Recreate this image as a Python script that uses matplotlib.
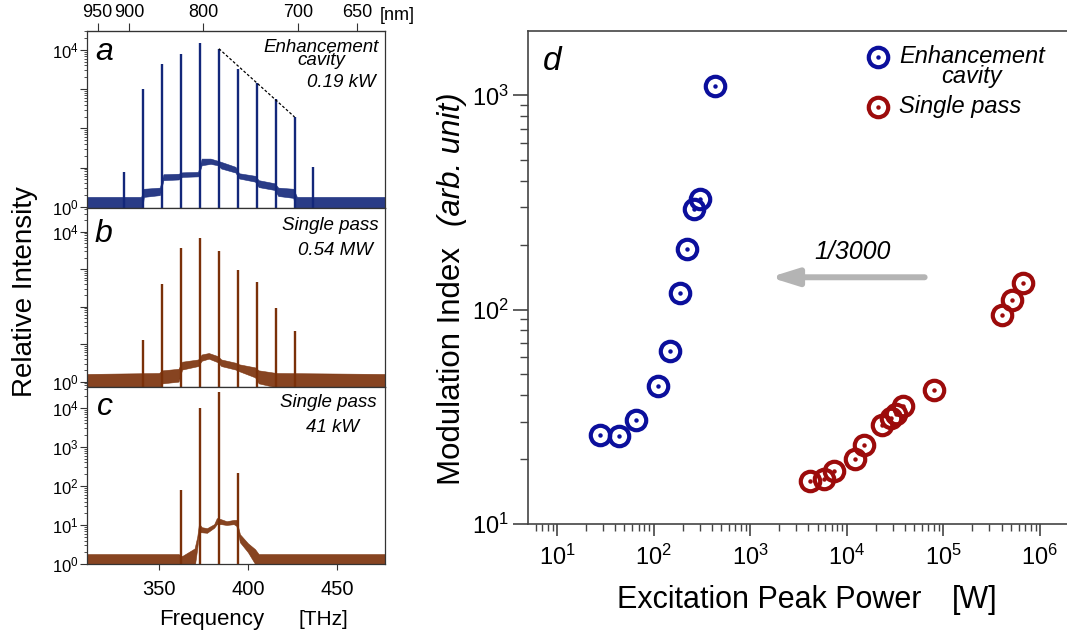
import matplotlib
matplotlib.use('Agg')
import matplotlib.pyplot as plt
from matplotlib.lines import Line2D
from matplotlib.ticker import LogLocator, NullFormatter, FuncFormatter
import numpy as np

plt.rcParams['font.family'] = ['Liberation Sans', 'DejaVu Sans']
plt.rcParams['mathtext.fontset'] = 'custom'
plt.rcParams['mathtext.rm'] = 'Liberation Sans'
plt.rcParams['mathtext.it'] = 'Liberation Sans:italic'
plt.rcParams['mathtext.bf'] = 'Liberation Sans:bold'

# ---- spectra (a, b, c): sideband lines and noisy background band ----
peak_freq_a = [330.3, 340.8, 351.5, 362.2, 372.9, 383.7, 394.2, 404.9, 415.6, 426.2, 436.7]
peak_int_a = [7.8, 1020, 4370, 7940, 15100, 10700, 3310, 1450, 562, 195, 10.5]
band_freq_a = [309, 340, 341.5, 350.5, 352.5, 361, 363, 372, 374, 379, 383, 385, 393, 395,
               404, 406, 415, 417, 425.5, 427.5, 477]
band_lo_a = [0.5, 0.5, 1.8, 2.0, 4.8, 5.0, 5.8, 6.0, 11.5, 12.5, 11.5, 9.5, 7.5, 5.3,
             4.4, 3.2, 2.7, 1.9, 1.7, 0.5, 0.5]
band_hi_a = [1.8, 1.8, 2.9, 3.1, 6.8, 7.0, 7.6, 7.8, 17, 17, 15, 14, 10.5, 7.2,
             6.2, 4.8, 4.0, 3.1, 2.9, 1.8, 1.8]

peak_freq_b = [340.8, 351.5, 362.2, 372.9, 383.7, 394.2, 404.9, 415.6, 426.2]
peak_int_b = [13, 400, 3700, 6900, 3100, 950, 450, 93, 23]
band_freq_b = [309, 350, 352, 361, 363, 372, 374, 378, 383, 385, 393, 395, 404, 406, 416, 477]
band_lo_b = [0.6, 0.6, 0.9, 1.0, 2.1, 2.6, 3.6, 4.1, 3.3, 2.6, 2.1, 1.9, 1.3, 0.9, 0.7, 0.6]
band_hi_b = [1.6, 1.7, 2.0, 2.2, 3.4, 3.9, 5.3, 5.8, 4.8, 3.9, 3.2, 2.9, 2.4, 2.0, 1.7, 1.6]

peak_freq_c = [362.2, 372.9, 383.7, 394.2]
peak_int_c = [80, 9800, 26000, 210]
band_freq_c = [309, 361, 363, 370, 371.5, 372.5, 374, 377, 381, 382.5, 385, 388, 392, 393.5,
               395.5, 400, 404, 406, 477]
band_lo_c = [0.5, 0.5, 0.5, 0.8, 2.5, 6.5, 6.5, 6.3, 8.5, 10.5, 10.5, 10, 10.5, 9.5, 3.6, 2.0,
             1.0, 0.5, 0.5]
band_hi_c = [1.8, 1.8, 1.6, 2.5, 5, 11, 8.8, 8.3, 10.5, 15, 14, 12.5, 13.5, 13.5, 5.8, 3.4,
             2.4, 1.8, 1.8]

nm_ticks = [950, 900, 800, 700, 650]
thz_ticks = [350, 400, 450]

# ---- panel d: modulation index vs excitation peak power ----
cav_power = [28, 44, 65, 111, 149, 186, 221, 263, 300, 430]
cav_index = [26, 25.7, 30.5, 44, 64, 120, 191, 295, 327, 1100]
sp_power = [4120, 5860, 7430, 12080, 15200, 23100, 28500, 32600, 38600, 80500,
            403000, 515000, 673000]
sp_index = [15.8, 16.2, 17.7, 20.2, 23.4, 28.9, 31.2, 32.7, 35.5, 42.3, 94.6, 111, 133]

navy = '#13277a'
brown = '#7a3009'
blue = '#0b0f9c'
red = '#9c0b0b'
C_LIGHT = 299792.458

W, H = 1067, 639
fig = plt.figure(figsize=(W / 100, H / 100), dpi=100)


def box(l, t, r, b):
    return [l / W, 1 - b / H, (r - l) / W, (b - t) / H]


def txt(x, y, s, **kw):
    return fig.text(x / W, 1 - y / H, s, **kw)


def to_other(v):
    v = np.asarray(v, dtype=float)
    with np.errstate(divide='ignore'):
        return C_LIGHT / v


def decade_label(keep):
    def fmt(v, pos):
        e = int(round(np.log10(v)))
        if keep is None or e in keep:
            return r'$\mathdefault{10^{%d}}$' % e
        return ''
    return FuncFormatter(fmt)


def spectrum(ax, pf, pi, bf, lo, hi, color, ylim, keep):
    ax.fill_between(bf, lo, hi, color=color, lw=0.4, alpha=0.9)
    ax.vlines(pf, 0.3, pi, color=color, lw=1.7)
    ax.set_xlim(309.4, 477)
    ax.set_yscale('log')
    ax.set_ylim(*ylim)
    ax.yaxis.set_major_locator(LogLocator(base=10, numticks=12))
    ax.yaxis.set_minor_locator(LogLocator(base=10, subs=np.arange(2, 10), numticks=12))
    ax.yaxis.set_major_formatter(decade_label(keep))
    ax.yaxis.set_minor_formatter(NullFormatter())
    ax.tick_params(axis='y', which='major', direction='out', length=5, width=0.8,
                   labelsize=12, pad=1, color='#333333')
    ax.tick_params(axis='y', which='minor', direction='out', length=2.5, width=0.6,
                   color='#333333')
    for s in ax.spines.values():
        s.set_color('#333333')
        s.set_linewidth(0.9)


ax_a = fig.add_axes(box(86.7, 31, 385, 208.5))
ax_b = fig.add_axes(box(86.7, 208.5, 385, 386.5))
ax_c = fig.add_axes(box(86.7, 386.5, 385, 564))

spectrum(ax_a, peak_freq_a, peak_int_a, band_freq_a, band_lo_a, band_hi_a, navy,
         (10 ** -0.04, 10 ** 4.48), (0, 4))
spectrum(ax_b, peak_freq_b, peak_int_b, band_freq_b, band_lo_b, band_hi_b, brown,
         (10 ** -0.13, 10 ** 4.62), (0, 4))
spectrum(ax_c, peak_freq_c, peak_int_c, band_freq_c, band_lo_c, band_hi_c, brown,
         (1.0, 10 ** 4.55), None)

for ax in (ax_a, ax_b):
    ax.tick_params(axis='x', bottom=False, labelbottom=False)
ax_c.set_xticks(thz_ticks)
ax_c.tick_params(axis='x', direction='out', length=4.3, width=0.8, pad=7.5,
                 labelsize=14.5, color='#333333')

# dashed envelope over the blue-side sidebands
ax_a.plot([peak_freq_a[5], peak_freq_a[9]], [peak_int_a[5], peak_int_a[9]],
          ls=(0, (2.2, 1.6)), color='k', lw=0.9)

sec = ax_a.secondary_xaxis('top', functions=(to_other, to_other))
sec.set_xticks(nm_ticks)
sec.tick_params(direction='out', length=6, width=0.8, pad=1.5, labelsize=13, color='#333333')
sec.spines['top'].set_color('#333333')

# panel texts (multi-line blocks are anchored on the baseline of their last line)
txt(95, 60, 'a', fontsize=23, style='italic', va='baseline')
txt(95, 241.7, 'b', fontsize=23, style='italic', va='baseline')
txt(97, 415, 'c', fontsize=23, style='italic', va='baseline')
txt(379, 65, 'Enhancement\ncavity', fontsize=13.5, style='italic', ha='right',
    va='baseline', multialignment='center', linespacing=0.7)
txt(376, 87.3, '0.19 kW', fontsize=13.5, style='italic', ha='right', va='baseline')
txt(379, 230, 'Single pass', fontsize=13.5, style='italic', ha='right', va='baseline')
txt(373, 255, '0.54 MW', fontsize=13.5, style='italic', ha='right', va='baseline')
txt(377, 406.7, 'Single pass', fontsize=13.5, style='italic', ha='right', va='baseline')
txt(359, 431.7, '41 kW', fontsize=13.5, style='italic', ha='right', va='baseline')
txt(380, 20, '[nm]', fontsize=13, va='baseline')
txt(159, 625, 'Frequency', fontsize=16, va='baseline')
txt(299, 625, '[THz]', fontsize=15, va='baseline')
txt(32, 397, 'Relative Intensity', fontsize=20, rotation=90, rotation_mode='anchor',
    ha='left', va='baseline')

# ---- panel d ----
ax_d = fig.add_axes(box(528, 31, 1067, 524))
ax_d.set_xscale('log')
ax_d.set_yscale('log')
ax_d.plot(cav_power, cav_index, ls='none', marker='o', ms=14, mfc='none', mec=blue, mew=3)
ax_d.plot(cav_power, cav_index, ls='none', marker='o', ms=3.2, mfc=blue, mec='none')
ax_d.plot(sp_power, sp_index, ls='none', marker='o', ms=14, mfc='none', mec=red, mew=3)
ax_d.plot(sp_power, sp_index, ls='none', marker='o', ms=3.2, mfc=red, mec='none')
ax_d.set_xlim(10 ** 0.70, 10 ** 6.28)
ax_d.set_ylim(10, 10 ** 3.30)
ax_d.spines['right'].set_visible(False)
for s in ('left', 'top', 'bottom'):
    ax_d.spines[s].set_color('#444444')
    ax_d.spines[s].set_linewidth(1.2)
for axis in (ax_d.xaxis, ax_d.yaxis):
    axis.set_major_locator(LogLocator(base=10, numticks=20))
    axis.set_minor_locator(LogLocator(base=10, subs=np.arange(2, 10), numticks=20))
    axis.set_major_formatter(decade_label(None))
    axis.set_minor_formatter(NullFormatter())
ax_d.tick_params(axis='x', which='major', direction='out', length=8.6, width=1.2, pad=6,
                 labelsize=17, color='#444444')
ax_d.tick_params(axis='x', which='minor', direction='out', length=5, width=1.0, color='#444444')
ax_d.tick_params(axis='y', which='major', direction='out', length=10.8, width=1.2, pad=3,
                 labelsize=17, color='#444444')
ax_d.tick_params(axis='y', which='minor', direction='out', length=5.8, width=1.0,
                 color='#444444')

ax_d.annotate('', xy=(1600, 141.6), xytext=(64000, 141.6),
              arrowprops=dict(arrowstyle='-|>,head_length=1.6,head_width=0.5', lw=4.3,
                              color='#b4b4b4', shrinkA=0, shrinkB=0))
txt(853, 259, '1/3000', fontsize=18, style='italic', ha='center', va='baseline')
txt(543, 70, 'd', fontsize=24, style='italic', va='baseline')

# legend drawn by hand to keep the centred second line
for y, c in ((57, blue), (107, red)):
    fig.add_artist(Line2D([878 / W], [1 - y / H], marker='o', ms=14, mfc='none', mec=c, mew=3,
                          transform=fig.transFigure))
    fig.add_artist(Line2D([878 / W], [1 - y / H], marker='o', ms=3.2, mfc=c, mec='none',
                          transform=fig.transFigure))
txt(899, 83, 'Enhancement\ncavity', fontsize=17, style='italic', va='baseline',
    multialignment='center', linespacing=0.85)
txt(899, 113, 'Single pass', fontsize=17, style='italic', va='baseline')

txt(617, 608, 'Excitation Peak Power', fontsize=22, va='baseline')
txt(997, 608, '[W]', fontsize=22, ha='right', va='baseline')
txt(460, 485, 'Modulation Index', fontsize=22.5, rotation=90, rotation_mode='anchor',
    ha='left', va='baseline')
txt(460, 92, '(arb. unit)', fontsize=22.5, style='italic', rotation=90, rotation_mode='anchor',
    ha='right', va='baseline')

fig.savefig('out.png', dpi=100)
